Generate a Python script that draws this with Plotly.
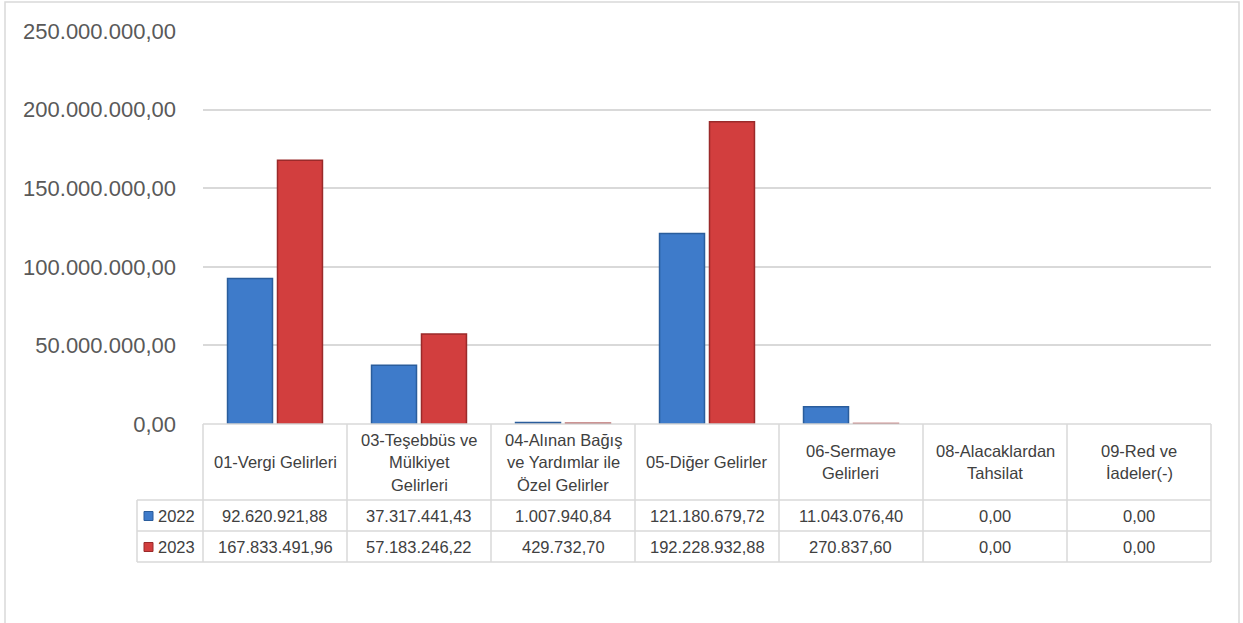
import plotly.graph_objects as go

# ---- data ----
categories = [
    "01-Vergi Gelirleri",
    "03-Teşebbüs ve<br>Mülkiyet<br>Gelirleri",
    "04-Alınan Bağış<br>ve Yardımlar ile<br>Özel Gelirler",
    "05-Diğer Gelirler",
    "06-Sermaye<br>Gelirleri",
    "08-Alacaklardan<br>Tahsilat",
    "09-Red ve<br>İadeler(-)",
]
series_names = ["2022", "2023"]
values_2022 = [92620921.88, 37317441.43, 1007940.84, 121180679.72, 11043076.40, 0.0, 0.0]
values_2023 = [167833491.96, 57183246.22, 429732.70, 192228932.88, 270837.60, 0.0, 0.0]
y_tickvals = [0, 50e6, 100e6, 150e6, 200e6, 250e6]
y_ticktext = ["0,00", "50.000.000,00", "100.000.000,00", "150.000.000,00",
              "200.000.000,00", "250.000.000,00"]

# ---- styling ----
W, H = 1243, 623
PX_L, PX_R = 203, 1211
PX_TOP, PX_BOT = 31, 424
FILL = ["#3e7bca", "#d23e3e"]
EDGE = ["#2a5d9c", "#9a2a2a"]
GRID = "#d9d9d9"
TXT = "#404040"
FONT = "Liberation Sans"
TFS = 16.5


def tr(v):
    s = f"{v:,.2f}"
    return s.replace(",", "X").replace(".", ",").replace("X", ".")


def py(px):
    return 1 - px / H


def pxx(px):
    return px / W


fig = go.Figure()
xs = list(range(len(categories)))
for name, vals, f, e in zip(series_names, [values_2022, values_2023], FILL, EDGE):
    fig.add_trace(go.Bar(x=xs, y=vals, name=name,
                         marker=dict(color=f, line=dict(color=e,
                                                        width=[1.5 if v > 0 else 0 for v in vals])),
                         showlegend=False, hoverinfo="y"))

shapes = []
annotations = []
line = dict(color=GRID, width=1.5)

# outer border
shapes.append(dict(type="rect", xref="paper", yref="paper",
                   x0=pxx(5), x1=pxx(1239), y0=py(640), y1=py(2),
                   line=dict(color=GRID, width=1.5)))

ncat = len(categories)
col_w = (PX_R - PX_L) / ncat
ROW_Y = [PX_BOT, 500, 531, 562]
TABLE_L = 137

for i, yy in enumerate(ROW_Y):
    x0 = PX_L if i == 0 else TABLE_L
    shapes.append(dict(type="line", xref="paper", yref="paper",
                       x0=pxx(x0), x1=pxx(PX_R), y0=py(yy), y1=py(yy), line=line))
shapes.append(dict(type="line", xref="paper", yref="paper",
                   x0=pxx(TABLE_L), x1=pxx(TABLE_L), y0=py(500), y1=py(562), line=line))
for k in range(ncat + 1):
    xx = PX_L + k * col_w
    shapes.append(dict(type="line", xref="paper", yref="paper",
                       x0=pxx(xx), x1=pxx(xx), y0=py(PX_BOT), y1=py(562), line=line))

for k, cat in enumerate(categories):
    lines = cat.split("<br>")
    n = len(lines)
    cx = PX_L + (k + 0.5) * col_w
    for j, ln in enumerate(lines):
        yy = 462 + (j - (n - 1) / 2) * 22.5
        annotations.append(dict(x=pxx(cx), y=py(yy), xref="paper", yref="paper",
                                text=ln, showarrow=False, xanchor="center", yanchor="middle",
                                font=dict(family=FONT, size=TFS, color=TXT)))

row_centers = [516, 547]
for r, (name, vals) in enumerate(zip(series_names, [values_2022, values_2023])):
    yc = row_centers[r]
    shapes.append(dict(type="rect", xref="paper", yref="paper",
                       x0=pxx(144), x1=pxx(153), y0=py(yc + 4.5), y1=py(yc - 4.5),
                       fillcolor=FILL[r], line=dict(color=EDGE[r], width=1)))
    annotations.append(dict(x=pxx(156), y=py(yc), xref="paper", yref="paper",
                            text=name, showarrow=False, xanchor="left", yanchor="middle",
                            font=dict(family=FONT, size=TFS, color=TXT)))
    for k, v in enumerate(vals):
        cx = PX_L + (k + 0.5) * col_w
        annotations.append(dict(x=pxx(cx), y=py(yc), xref="paper", yref="paper",
                                text=tr(v), showarrow=False, xanchor="center", yanchor="middle",
                                font=dict(family=FONT, size=TFS, color=TXT)))

fig.update_layout(
    width=W, height=H,
    margin=dict(l=0, r=0, t=0, b=0, pad=0),
    paper_bgcolor="white", plot_bgcolor="white",
    barmode="group", bargap=0.306, bargroupgap=0.1,
    shapes=shapes, annotations=annotations,
    xaxis=dict(domain=[pxx(PX_L), pxx(PX_R)], range=[-0.5, ncat - 0.5],
               showticklabels=False, showgrid=False, zeroline=False, showline=False,
               automargin=False, fixedrange=True),
    yaxis=dict(domain=[py(PX_BOT), py(PX_TOP)], range=[0, 250e6],
               tickvals=y_tickvals, ticktext=y_ticktext,
               tickfont=dict(family=FONT, size=22, color="#595959"),
               ticklabelstandoff=26, automargin=False,
               showgrid=True, gridcolor=GRID, gridwidth=1.5,
               zeroline=False, showline=False, fixedrange=True),
)

fig.write_html("out.html", config={"displayModeBar": False},
               post_script="document.body.style.margin='0';document.body.style.overflow='hidden';")
